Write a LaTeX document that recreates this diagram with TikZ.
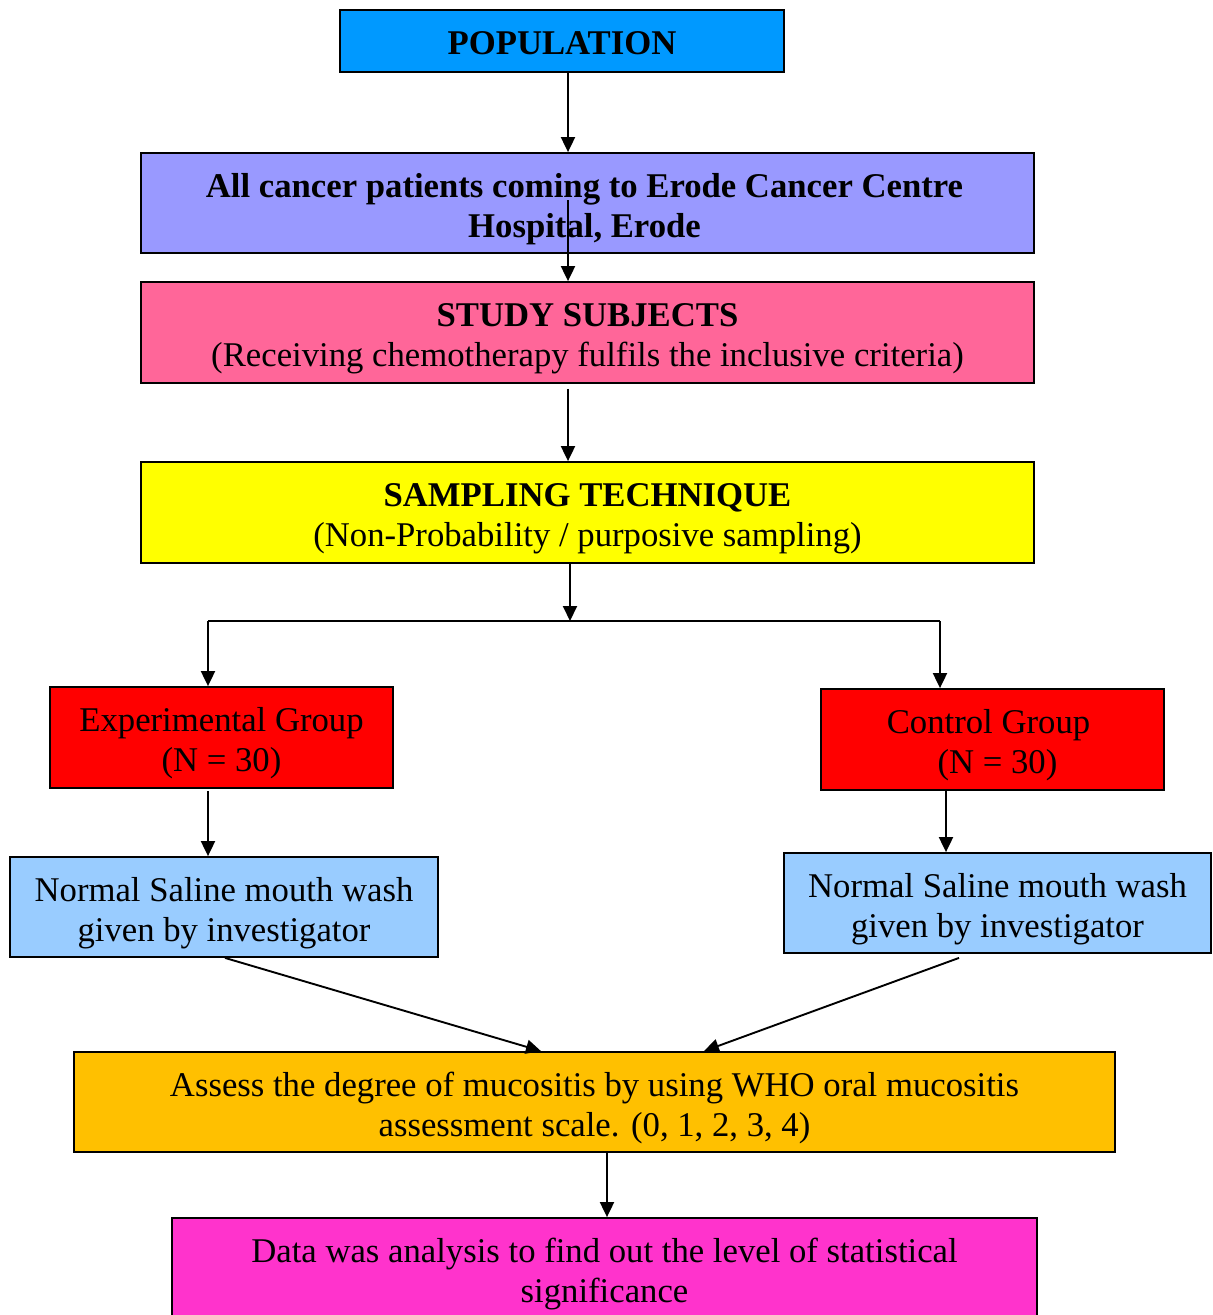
\documentclass[tikz,border=0pt]{standalone}
\usepackage{fontspec}
\setmainfont{Liberation Serif}
\usetikzlibrary{arrows.meta}
\newcommand{\bigfs}{\fontsize{34.7}{40}\selectfont}
\definecolor{cpop}{HTML}{0099FF}
\definecolor{clav}{HTML}{9999FF}
\definecolor{cpink}{HTML}{FF6699}
\definecolor{cyel}{HTML}{FFFF00}
\definecolor{cred}{HTML}{FF0000}
\definecolor{clblue}{HTML}{99CCFF}
\definecolor{corange}{HTML}{FFC000}
\definecolor{cmag}{HTML}{FF33CC}
\tikzset{
  fbox/.style={draw=black, line width=1.8pt, inner sep=0pt},
  txt/.style={inner sep=0pt, align=center, font=\bigfs, yshift=-6pt},
  arr/.style={line width=1.9pt, -{Triangle[width=14pt,length=15pt]}},
  ln/.style={line width=1.9pt},
}
\begin{document}
\begin{tikzpicture}[x=1pt,y=-1pt]
\clip (0,0) rectangle (1213,1315);
\fill[white] (0,0) rectangle (1213,1315);
% boxes
\node[fbox, fill=cpop, minimum width=444pt, minimum height=62pt] (pop) at (562,41) {};
\node[fbox, fill=clav, minimum width=893pt, minimum height=100pt] (b2) at (587.5,203) {};
\node[fbox, fill=cpink, minimum width=893pt, minimum height=101pt] (b3) at (587.5,332.5) {};
\node[fbox, fill=cyel, minimum width=893pt, minimum height=101pt] (b4) at (587.5,512.5) {};
\node[fbox, fill=cred, minimum width=343pt, minimum height=101pt] (exp) at (221.5,737.5) {};
\node[fbox, fill=cred, minimum width=343pt, minimum height=101pt] (ctl) at (992.5,739.5) {};
\node[fbox, fill=clblue, minimum width=428pt, minimum height=100pt] (nsl) at (224,907) {};
\node[fbox, fill=clblue, minimum width=427pt, minimum height=100pt] (nsr) at (997.5,903) {};
\node[fbox, fill=corange, minimum width=1041pt, minimum height=100pt] (asm) at (594.5,1102) {};
\node[fbox, fill=cmag, minimum width=865pt, minimum height=105pt] (dat) at (604.5,1270.5) {};
% texts
\node[txt, yshift=4pt] (popt) at (pop.center) {\bfseries POPULATION};
\node[txt] (b2t) at ([xshift=-3pt]b2.center) {\bfseries All cancer patients coming to Erode Cancer Centre\\\bfseries Hospital, Erode};
\node[txt] (b3t) at (b3.center) {\bfseries STUDY SUBJECTS\\(Receiving chemotherapy fulfils the inclusive criteria)};
\node[txt] (b4t) at (b4.center) {\bfseries SAMPLING TECHNIQUE\\(Non-Probability / purposive sampling)};
\node[txt] (expt) at (exp.center) {Experimental Group\\(N = 30)};
\node[txt] (ctlt) at ([xshift=-4pt]ctl.center) {Control Group\\\hspace*{18pt}(N = 30)};
\node[txt] (nslt) at (nsl.center) {Normal Saline mouth wash\\given by investigator};
\node[txt] (nsrt) at (nsr.center) {Normal Saline mouth wash\\given by investigator};
\node[txt] (asmt) at (asm.center) {Assess the degree of mucositis by using WHO oral mucositis\\assessment scale. (0, 1, 2, 3, 4)};
\node[txt, yshift=2pt] (datt) at (dat.center) {Data was analysis to find out the level of statistical\\significance};
% connectors
\draw[arr] ([xshift=6pt]pop.south) -- ([xshift=-19.5pt]b2.north);
\draw[arr] ([xshift=-19.5pt,yshift=3pt]b2.center) -- ([xshift=-19.5pt]b3.north);
\draw[arr] ([xshift=-19.5pt,yshift=-5pt]b3.south) -- ([xshift=-19.5pt]b4.north);
\coordinate (split) at (570,621);
\coordinate (splitL) at (208,621);
\coordinate (splitR) at (940,621);
\draw[arr] ([xshift=-17.5pt]b4.south) -- (split);
\draw[ln] (splitL) -- (splitR);
\draw[arr] (splitL) -- (splitL |- exp.north);
\draw[arr] (splitR) -- (splitR |- ctl.north);
\draw[arr] ([xshift=-13.5pt,yshift=-2pt]exp.south) -- ([xshift=-16pt]nsl.north);
\draw[arr] ([xshift=-46.5pt]ctl.south) -- ([xshift=-51.5pt]nsr.north);
\draw[arr] ([xshift=1pt]nsl.south) -- ([xshift=-53.5pt]asm.north);
\draw[arr] ([xshift=-38.5pt,yshift=-4pt]nsr.south) -- ([xshift=109.5pt]asm.north);
\draw[arr] ([xshift=12.5pt]asm.south) -- ([xshift=2.5pt]dat.north);
\end{tikzpicture}
\end{document}
